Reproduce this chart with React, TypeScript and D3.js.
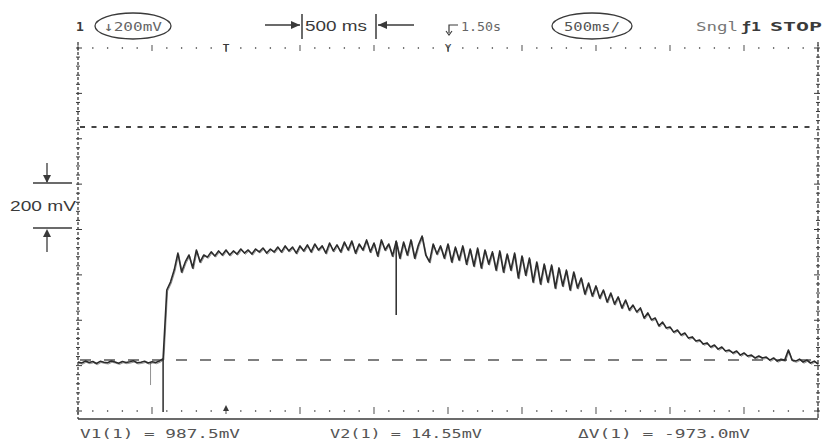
import React from "react";
import * as d3 from "d3";

// time axis: 10 divisions of 500 ms
const timeSpanMs = 5000;
const sampleStepMs = 25;
// cursor levels (mV)
const cursorV1 = 987.5;
const cursorV2 = 14.55;
// trace samples (mV), one every 25 ms
const traceMv = [
  6, 2, 10, 4, 8, 0, 9, 5, 3, 10, 6, 1, 8, 4, 7, 11, 3, 5, 9, 2,
  7, 4, 10, 20, 307, 340, 390, 461, 382, 424, 453, 399, 474, 424,
  453, 444, 466, 449, 470, 453, 474, 453, 470, 457, 478, 461, 474, 457,
  478, 466, 482, 461, 478, 466, 486, 466, 491, 470, 486, 461, 491, 470,
  495, 466, 499, 474, 491, 461, 503, 470, 495, 466, 507, 474, 511, 461,
  499, 474, 516, 466, 503, 449, 516, 474, 499, 449, 511, 440, 507, 453,
  516, 440, 495, 532, 453, 424, 499, 457, 491, 440, 499, 424, 486, 432,
  491, 415, 478, 407, 482, 399, 474, 415, 466, 390, 470, 382, 457, 390,
  461, 357, 449, 369, 440, 340, 424, 332, 415, 340, 411, 315, 399, 324,
  390, 307, 382, 315, 357, 290, 336, 282, 324, 273, 307, 257, 294, 248,
  278, 232, 265, 223, 244, 215, 232, 190, 211, 182, 190, 157, 173, 148,
  152, 131, 140, 119, 127, 106, 111, 94, 98, 81, 86, 69, 77, 60,
  69, 52, 56, 44, 52, 35, 44, 31, 35, 23, 31, 23, 27, 14,
  23, 10, 18, 14, 56, 14, 10, 18, 6, 14, 2, 10, -2,
];
// short glitches: time (ms) and the level they reach (mV)
const glitchTimesMs = [490, 575, 2150];
const glitchLowMv = [-90, -203, 202];

const topLabels = ["500 ms", "1.50s", "Sngl", "STOP"];
const cursorLabels = ["V1(1) = 987.5mV", "V2(1) = 14.55mV", "\u0394V(1) = -973.0mV"];

export default function App() {
  const W = 830, H = 443;
  const left = 78, right = 818, top = 48, gridBottom = 411, frameBottom = 419;
  const x = d3.scaleLinear().domain([0, timeSpanMs]).range([left, right]);
  const y = d3.scaleLinear().domain([cursorV2, cursorV1]).range([360, 127]);
  const line = d3
    .line<number>()
    .x((_, i) => x(i * sampleStepMs))
    .y((d) => y(d));
  const ink = "#3a3a3a";
  const grid = "#777";
  const minorT = d3.range(0, timeSpanMs + 1, 100);
  const vRow = d3.scaleLinear().domain([0, 40]).range([top, gridBottom]);
  const minorV = d3.range(0, 41);
  const mono = "'DejaVu Sans Mono', 'Liberation Mono', monospace";
  const sans = "'Liberation Sans', Arial, sans-serif";

  return (
    <svg
      width={W}
      height={H}
      style={{ position: "absolute", left: 0, top: 0, background: "#fff" }}
    >
      {/* top dotted row */}
      {minorT.map((t, k) => (
        <line
          key={"tt" + k}
          x1={x(t)}
          x2={x(t)}
          y1={k % 5 === 0 ? top - 3 : top - 1}
          y2={k % 5 === 0 ? top + 3 : top + 1}
          stroke={grid}
          strokeWidth={1.3}
        />
      ))}
      {/* bottom dotted row */}
      {minorT.map((t, k) => (
        <line
          key={"bt" + k}
          x1={x(t)}
          x2={x(t)}
          y1={k % 5 === 0 ? gridBottom - 4 : gridBottom - 1}
          y2={k % 5 === 0 ? gridBottom + 3 : gridBottom + 1}
          stroke={grid}
          strokeWidth={1.3}
        />
      ))}
      {/* left and right axes */}
      <line x1={left} x2={left} y1={top - 6} y2={frameBottom} stroke={ink} strokeWidth={1.3} strokeDasharray="3,2" />
      <line x1={right} x2={right} y1={top - 6} y2={frameBottom} stroke={ink} strokeWidth={1.3} strokeDasharray="4,2" />
      {minorV.map((k) => (
        <g key={"lv" + k}>
          <line x1={left - 2} x2={left + (k % 5 === 0 ? 4 : 2)} y1={vRow(k)} y2={vRow(k)} stroke={ink} strokeWidth={1} />
          <line x1={right - (k % 5 === 0 ? 4 : 2)} x2={right + 2} y1={vRow(k)} y2={vRow(k)} stroke={ink} strokeWidth={1} />
        </g>
      ))}
      {/* bottom frame line */}
      <line x1={left} x2={right} y1={frameBottom} y2={frameBottom} stroke={ink} strokeWidth={1.5} />

      {/* trigger markers */}
      <text x={x(1000)} y={top + 4} fontSize={11} fontFamily={mono} fill={ink} textAnchor="middle">T</text>
      <text x={x(2500)} y={top + 4} fontSize={11} fontFamily={mono} fill={ink} textAnchor="middle">Y</text>
      <path d={`M${x(1000) - 3},${gridBottom} L${x(1000) + 3},${gridBottom} L${x(1000)},${gridBottom - 6} Z`} fill={ink} />

      {/* cursor lines */}
      <line x1={left + 2} x2={right - 2} y1={y(cursorV1)} y2={y(cursorV1)} stroke="#444" strokeWidth={2} strokeDasharray="5,6.5" />
      <line x1={left + 2} x2={right - 2} y1={y(cursorV2)} y2={y(cursorV2)} stroke="#555" strokeWidth={1.5} strokeDasharray="11,13" />

      {/* trace */}
      <path d={line(traceMv) || ""} fill="none" stroke="#2b2b2b" strokeWidth={1.6} strokeLinejoin="round" />
      <path d={line(traceMv) || ""} fill="none" stroke="#2b2b2b" strokeWidth={1} opacity={0.5} transform="translate(0.8,1.2)" />
      {glitchTimesMs.map((t, i) => {
        const idx = Math.round(t / sampleStepMs);
        return (
          <line
            key={"g" + i}
            x1={x(t)}
            x2={x(t)}
            y1={y(traceMv[idx])}
            y2={y(glitchLowMv[i])}
            stroke="#2b2b2b"
            strokeWidth={i === 0 ? 1 : 1.5}
            opacity={i === 0 ? 0.5 : 1}
          />
        );
      })}

      {/* top status line */}
      <text x={76} y={31} fontSize={13} fontFamily={mono} fill={ink} fontWeight="bold">1</text>
      <ellipse cx={133} cy={26} rx={38} ry={13} fill="none" stroke={ink} strokeWidth={1.3} />
      <text x={133} y={31} fontSize={13} fontFamily={mono} fill="#666" textAnchor="middle" textLength={58} lengthAdjust="spacingAndGlyphs">{"\u2193200mV"}</text>

      <line x1={265} x2={300} y1={25} y2={25} stroke={ink} strokeWidth={1.3} />
      <path d="M300,25 L291,21 L291,29 Z" fill={ink} />
      <line x1={302} x2={302} y1={14} y2={39} stroke={ink} strokeWidth={1.5} />
      <text x={305} y={31} fontSize={15} fontFamily={sans} fill={ink} textLength={62} lengthAdjust="spacingAndGlyphs">{topLabels[0]}</text>
      <line x1={376} x2={376} y1={14} y2={39} stroke={ink} strokeWidth={1.5} />
      <path d="M378,25 L387,21 L387,29 Z" fill={ink} />
      <line x1={378} x2={414} y1={25} y2={25} stroke={ink} strokeWidth={1.3} />

      <path d="M449,33 L449,25 L458,25" fill="none" stroke={ink} strokeWidth={1.2} />
      <path d="M446,31 L449,35 L452,31" fill="none" stroke={ink} strokeWidth={1.1} />
      <text x={461} y={31} fontSize={12} fontFamily={mono} fill="#666" textLength={40} lengthAdjust="spacingAndGlyphs">{topLabels[1]}</text>

      <ellipse cx={592} cy={26} rx={40} ry={13} fill="none" stroke={ink} strokeWidth={1.3} />
      <text x={592} y={31} fontSize={13} fontFamily={mono} fill="#555" textAnchor="middle" textLength={56} lengthAdjust="spacingAndGlyphs">500ms/</text>

      <text x={696} y={31} fontSize={12} fontFamily={mono} fill="#777" textLength={42} lengthAdjust="spacingAndGlyphs">{topLabels[2]}</text>
      <text x={741} y={31} fontSize={12} fontFamily={mono} fill={ink} fontWeight="bold" textLength={20} lengthAdjust="spacingAndGlyphs">{"\u0192"}1</text>
      <text x={770} y={31} fontSize={12} fontFamily={mono} fill={ink} fontWeight="bold" textLength={52} lengthAdjust="spacingAndGlyphs">{topLabels[3]}</text>

      {/* 200 mV scale marker */}
      <line x1={47} x2={47} y1={163} y2={182} stroke={ink} strokeWidth={1.3} />
      <path d="M47,183 L43,175 L51,175 Z" fill={ink} />
      <line x1={33} x2={72} y1={183} y2={183} stroke={ink} strokeWidth={1.5} />
      <text x={10} y={211} fontSize={15} fontFamily={sans} fill={ink} textLength={66} lengthAdjust="spacingAndGlyphs">200 mV</text>
      <line x1={33} x2={72} y1={228} y2={228} stroke={ink} strokeWidth={1.5} />
      <path d="M47,229 L43,237 L51,237 Z" fill={ink} />
      <line x1={47} x2={47} y1={232} y2={252} stroke={ink} strokeWidth={1.3} />

      {/* cursor readouts */}
      <text x={80} y={438} fontSize={12} fontFamily={mono} fill="#555" textLength={160} lengthAdjust="spacingAndGlyphs">{cursorLabels[0]}</text>
      <text x={330} y={438} fontSize={12} fontFamily={mono} fill="#555" textLength={152} lengthAdjust="spacingAndGlyphs">{cursorLabels[1]}</text>
      <text x={578} y={438} fontSize={12} fontFamily={mono} fill="#555" textLength={172} lengthAdjust="spacingAndGlyphs">{cursorLabels[2]}</text>
    </svg>
  );
}
